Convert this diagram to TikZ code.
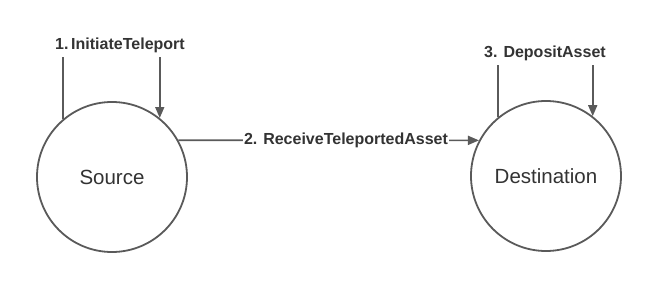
\documentclass[tikz,border=0pt]{standalone}
\usepackage{fontspec}
\setmainfont{Liberation Sans}
\usetikzlibrary{arrows.meta, positioning, backgrounds}
\definecolor{tpgray}{RGB}{90,90,90}
\definecolor{tptext}{RGB}{51,51,51}
\tikzset{
  %% ---- boxes ----
  chain/.style = {circle, draw=tpgray, line width=1.8pt, fill=white,
                  minimum size=150pt, inner sep=0pt,
                  font=\fontsize{20.5}{24}\selectfont, text=tptext},
  msg/.style   = {rectangle, fill=white, inner xsep=1pt, inner ysep=0pt,
                  minimum height=24pt, text=tptext,
                  font=\fontsize{16}{19}\selectfont\bfseries},
  %% ---- arrows ----
  flow/.style  = {-{Triangle[length=11pt, width=9pt]}, line width=1.6pt,
                  color=tpgray},
}
\begin{document}
\begin{tikzpicture}[x=1pt, y=-1pt]
\useasboundingbox (0,0) rectangle (659,304);

% Chains
\node[chain] (source) at (112,177) {Source};
\node[chain] (dest)   at (546,176) {Destination};

% Message labels
\node[msg] (initiate) at (120,45)  {1.\,InitiateTeleport};
\node[msg] (receive)  at (346,140) {2. ReceiveTeleportedAsset};
\node[msg] (deposit)  at (545,53)  {3. DepositAsset};

% Connectors
\begin{scope}[on background layer]
  \draw[flow] (source.130) |- (initiate.center) -| (source.51);
  \draw[flow] (source.29) -- (dest.152);
  \draw[flow] (dest.129) |- (deposit.center) -| (dest.52);
\end{scope}

\end{tikzpicture}
\end{document}
